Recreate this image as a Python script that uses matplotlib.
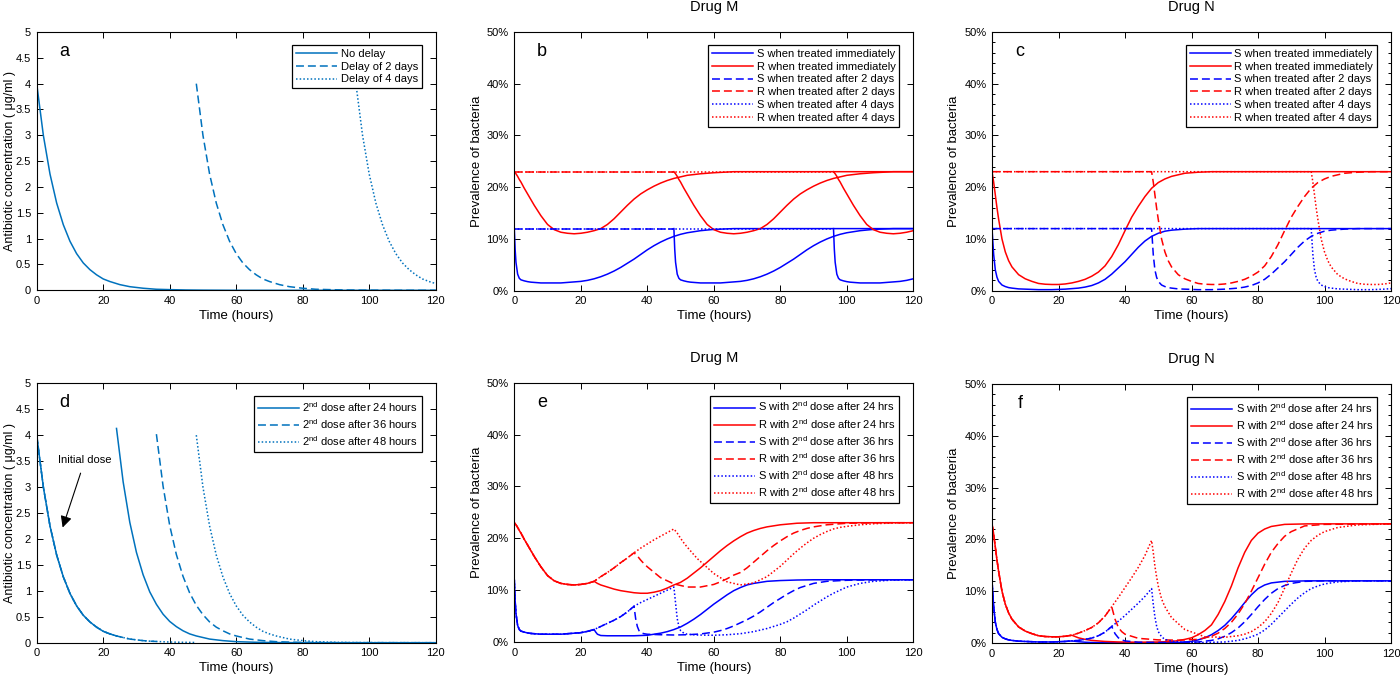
import numpy as np
import matplotlib
matplotlib.use('Agg')
import matplotlib.pyplot as plt
from matplotlib.ticker import FuncFormatter, MultipleLocator

plt.rcParams['font.family'] = ['Liberation Sans', 'DejaVu Sans']
plt.rcParams['mathtext.fontset'] = 'custom'
plt.rcParams['mathtext.rm'] = 'Liberation Sans'
plt.rcParams['mathtext.it'] = 'Liberation Sans:italic'
plt.rcParams['mathtext.bf'] = 'Liberation Sans:bold'

# ---------------- Panel a: antibiotic concentration, delayed start ----------------
a_t_nodelay = [0, 2, 4, 6, 8, 10, 12, 14, 16, 18, 20, 22, 25, 28, 32, 36, 40, 45, 50, 60, 120]
a_c_nodelay = [4.0, 3.0, 2.25, 1.69, 1.27, 0.95, 0.71, 0.53, 0.40, 0.30, 0.22, 0.17, 0.11, 0.07,
               0.04, 0.02, 0.013, 0.006, 0.003, 0.0, 0.0]
a_t_delay2 = [48, 50, 52, 54, 56, 58, 60, 62, 64, 66, 68, 70, 73, 76, 80, 84, 88, 93, 98, 108, 120]
a_c_delay2 = [4.0, 3.0, 2.25, 1.69, 1.27, 0.95, 0.71, 0.53, 0.40, 0.30, 0.22, 0.17, 0.11, 0.07,
              0.04, 0.02, 0.013, 0.006, 0.003, 0.0, 0.0]
a_t_delay4 = [96, 98, 100, 102, 104, 106, 108, 110, 112, 114, 116, 118, 120]
a_c_delay4 = [4.0, 3.0, 2.25, 1.69, 1.27, 0.95, 0.71, 0.53, 0.40, 0.30, 0.22, 0.17, 0.13]

# ---------------- Panel d: antibiotic concentration, second dose ----------------
d_t_24 = [0, 2, 4, 6, 8, 10, 12, 14, 16, 18, 20, 22, 24, 24, 24, 26, 28, 30, 32, 34, 36, 38, 40,
          42, 44, 46, 48, 52, 56, 60, 66, 72, 80, 120]
d_c_24 = [4.0, 3.0, 2.25, 1.69, 1.27, 0.95, 0.71, 0.53, 0.40, 0.30, 0.22, 0.17, 0.13, np.nan,
          4.13, 3.10, 2.32, 1.74, 1.31, 0.98, 0.74, 0.55, 0.41, 0.31, 0.23, 0.17, 0.13, 0.07,
          0.04, 0.02, 0.008, 0.003, 0.0, 0.0]
d_t_36 = [0, 2, 4, 6, 8, 10, 12, 14, 16, 18, 20, 22, 24, 26, 28, 30, 32, 34, 36, 36, 36, 38, 40,
          42, 44, 46, 48, 50, 52, 54, 56, 58, 60, 64, 68, 72, 78, 84, 92, 120]
d_c_36 = [4.0, 3.0, 2.25, 1.69, 1.27, 0.95, 0.71, 0.53, 0.40, 0.30, 0.22, 0.17, 0.13, 0.10, 0.07,
          0.055, 0.04, 0.03, 0.024, np.nan, 4.02, 3.02, 2.26, 1.70, 1.28, 0.96, 0.72, 0.54, 0.40,
          0.30, 0.23, 0.17, 0.13, 0.07, 0.04, 0.02, 0.008, 0.003, 0.001, 0.0]
d_t_48 = [0, 2, 4, 6, 8, 10, 12, 14, 16, 18, 20, 22, 24, 26, 28, 30, 32, 34, 36, 38, 40, 42, 44,
          46, 48, 48, 48, 50, 52, 54, 56, 58, 60, 62, 64, 66, 68, 70, 72, 76, 80, 84, 90, 96, 104, 120]
d_c_48 = [4.0, 3.0, 2.25, 1.69, 1.27, 0.95, 0.71, 0.53, 0.40, 0.30, 0.22, 0.17, 0.13, 0.10, 0.07,
          0.055, 0.04, 0.03, 0.024, 0.018, 0.013, 0.01, 0.008, 0.006, 0.004, np.nan, 4.0, 3.0,
          2.25, 1.69, 1.27, 0.95, 0.71, 0.53, 0.40, 0.30, 0.22, 0.17, 0.13, 0.07, 0.04, 0.02,
          0.008, 0.003, 0.001, 0.0]

# ---------------- Panel b: Drug M, delayed treatment (prevalence, %) ----------------
b_t_now = [0, 0.25, 0.5, 1, 1.5, 2, 3, 4, 5, 6, 8, 10, 12, 14, 16, 18, 20, 22, 24, 26, 28, 30,
           32, 34, 36, 38, 40, 42, 44, 46, 48, 50, 52, 56, 60, 66, 120]
b_S_now = [12.0, 8.0, 5.5, 3.2, 2.4, 2.1, 1.9, 1.75, 1.65, 1.6, 1.5, 1.5, 1.5, 1.5, 1.6, 1.7, 1.8,
           2.0, 2.3, 2.7, 3.2, 3.8, 4.5, 5.3, 6.1, 7.0, 7.9, 8.7, 9.4, 10.0, 10.5, 10.9, 11.2,
           11.6, 11.85, 12.0, 12.0]
b_R_now = [23.0, 22.8, 22.6, 22.1, 21.5, 21.0, 19.8, 18.7, 17.6, 16.5, 14.5, 12.8, 11.8, 11.3,
           11.1, 11.0, 11.1, 11.3, 11.6, 12.0, 12.8, 13.9, 15.2, 16.5, 17.7, 18.7, 19.5, 20.2,
           20.8, 21.3, 21.7, 22.0, 22.3, 22.6, 22.8, 23.0, 23.0]
b_t_2day = [0, 48, 48.25, 48.5, 49, 49.5, 50, 51, 52, 53, 54, 56, 58, 60, 62, 64, 66, 68, 70, 72,
            74, 76, 78, 80, 82, 84, 86, 88, 90, 92, 94, 96, 98, 100, 104, 108, 114, 120]
b_S_2day = [12.0, 12.0, 8.0, 5.5, 3.2, 2.4, 2.1, 1.9, 1.75, 1.65, 1.6, 1.5, 1.5, 1.5, 1.5, 1.6,
            1.7, 1.8, 2.0, 2.3, 2.7, 3.2, 3.8, 4.5, 5.3, 6.1, 7.0, 7.9, 8.7, 9.4, 10.0, 10.5,
            10.9, 11.2, 11.6, 11.85, 12.0, 12.0]
b_R_2day = [23.0, 23.0, 22.8, 22.6, 22.1, 21.5, 21.0, 19.8, 18.7, 17.6, 16.5, 14.5, 12.8, 11.8,
            11.3, 11.1, 11.0, 11.1, 11.3, 11.6, 12.0, 12.8, 13.9, 15.2, 16.5, 17.7, 18.7, 19.5,
            20.2, 20.8, 21.3, 21.7, 22.0, 22.3, 22.6, 22.8, 23.0, 23.0]
b_t_4day = [0, 96, 96.25, 96.5, 97, 97.5, 98, 99, 100, 101, 102, 104, 106, 108, 110, 112, 114,
            116, 118, 120]
b_S_4day = [12.0, 12.0, 8.0, 5.5, 3.2, 2.4, 2.1, 1.9, 1.75, 1.65, 1.6, 1.5, 1.5, 1.5, 1.5, 1.6,
            1.7, 1.8, 2.0, 2.3]
b_R_4day = [23.0, 23.0, 22.8, 22.6, 22.1, 21.5, 21.0, 19.8, 18.7, 17.6, 16.5, 14.5, 12.8, 11.8,
            11.3, 11.1, 11.0, 11.1, 11.3, 11.6]

# ---------------- Panel c: Drug N, delayed treatment (prevalence, %) ----------------
c_t_now = [0, 0.5, 1, 1.5, 2, 3, 4, 5, 6, 8, 10, 12, 14, 16, 18, 20, 22, 24, 26, 28, 30, 32, 34,
           36, 38, 40, 42, 44, 46, 48, 50, 52, 54, 56, 58, 62, 66, 120]
c_S_now = [12.0, 7.0, 4.0, 2.6, 1.8, 1.1, 0.8, 0.6, 0.5, 0.35, 0.3, 0.25, 0.2, 0.2, 0.2, 0.25,
           0.3, 0.4, 0.5, 0.7, 1.0, 1.5, 2.2, 3.2, 4.4, 5.6, 7.0, 8.4, 9.6, 10.5, 11.1, 11.5,
           11.7, 11.8, 11.9, 12.0, 12.0, 12.0]
c_R_now = [23.0, 21.0, 18.5, 16.0, 13.8, 10.0, 7.5, 5.8, 4.6, 3.1, 2.3, 1.8, 1.4, 1.25, 1.2, 1.2,
           1.3, 1.5, 1.8, 2.2, 2.8, 3.6, 4.8, 6.6, 8.9, 11.6, 14.2, 16.3, 18.2, 19.8, 20.9, 21.6,
           22.1, 22.4, 22.7, 22.9, 23.0, 23.0]
c_t_2day = [0, 48, 48.5, 49, 49.5, 50, 51, 52, 53, 54, 56, 58, 60, 62, 64, 66, 68, 70, 72, 74,
            76, 78, 80, 82, 84, 86, 88, 90, 92, 94, 96, 98, 100, 102, 104, 106, 110, 114, 120]
c_S_2day = [12.0, 12.0, 7.0, 4.0, 2.6, 1.8, 1.1, 0.8, 0.6, 0.5, 0.35, 0.3, 0.25, 0.2, 0.2, 0.2,
            0.25, 0.3, 0.4, 0.5, 0.7, 1.0, 1.5, 2.2, 3.2, 4.4, 5.6, 7.0, 8.4, 9.6, 10.5, 11.1,
            11.5, 11.7, 11.8, 11.9, 12.0, 12.0, 12.0]
c_R_2day = [23.0, 23.0, 21.0, 18.5, 16.0, 13.8, 10.0, 7.5, 5.8, 4.6, 3.1, 2.3, 1.8, 1.4, 1.25,
            1.2, 1.2, 1.3, 1.5, 1.8, 2.2, 2.8, 3.6, 4.8, 6.6, 8.9, 11.6, 14.2, 16.3, 18.2, 19.8,
            20.9, 21.6, 22.1, 22.4, 22.7, 22.9, 23.0, 23.0]
c_t_4day = [0, 96, 96.5, 97, 97.5, 98, 99, 100, 101, 102, 104, 106, 108, 110, 112, 114, 116, 118,
            120]
c_S_4day = [12.0, 12.0, 7.0, 4.0, 2.6, 1.8, 1.1, 0.8, 0.6, 0.5, 0.35, 0.3, 0.25, 0.2, 0.2, 0.2,
            0.25, 0.3, 0.4]
c_R_4day = [23.0, 23.0, 21.0, 18.5, 16.0, 13.8, 10.0, 7.5, 5.8, 4.6, 3.1, 2.3, 1.8, 1.4, 1.25,
            1.2, 1.2, 1.3, 1.5]

# ---------------- Panel e: Drug M, second dose (prevalence, %) ----------------
e_t_24 = [0, 0.25, 0.5, 1, 1.5, 2, 3, 4, 5, 6, 8, 10, 12, 14, 16, 18, 20, 22, 24, 24.5, 25, 26,
          28, 30, 32, 34, 36, 38, 40, 42, 44, 46, 48, 50, 52, 54, 56, 58, 60, 62, 64, 66, 68, 70,
          72, 74, 76, 80, 85, 90, 120]
e_S_24 = [12.0, 8.0, 5.5, 3.2, 2.4, 2.1, 1.9, 1.75, 1.65, 1.6, 1.5, 1.5, 1.5, 1.5, 1.6, 1.7, 1.8,
          2.05, 2.4, 1.9, 1.5, 1.25, 1.2, 1.2, 1.2, 1.2, 1.2, 1.25, 1.3, 1.5, 1.7, 2.0, 2.4, 2.9,
          3.6, 4.4, 5.3, 6.3, 7.3, 8.2, 9.1, 9.9, 10.5, 11.0, 11.3, 11.5, 11.7, 11.85, 11.95,
          12.0, 12.0]
e_R_24 = [23.0, 22.8, 22.6, 22.1, 21.5, 21.0, 19.8, 18.7, 17.6, 16.5, 14.5, 12.8, 11.8, 11.3,
          11.1, 11.0, 11.1, 11.3, 11.7, 11.5, 11.3, 11.0, 10.6, 10.2, 9.9, 9.7, 9.5, 9.4, 9.4,
          9.6, 9.9, 10.4, 11.0, 11.5, 12.3, 13.3, 14.3, 15.4, 16.5, 17.6, 18.6, 19.5, 20.3, 21.0,
          21.5, 21.9, 22.2, 22.6, 22.9, 23.0, 23.0]
e_t_36 = [0, 0.25, 0.5, 1, 1.5, 2, 3, 4, 5, 6, 8, 10, 12, 14, 16, 18, 20, 22, 24, 26, 28, 30, 32,
          34, 36, 36.5, 37, 37.5, 38, 39, 40, 44, 48, 52, 56, 60, 62, 64, 66, 68, 70, 72, 74, 76,
          78, 80, 82, 84, 86, 88, 90, 94, 100, 110, 120]
e_S_36 = [12.0, 8.0, 5.5, 3.2, 2.4, 2.1, 1.9, 1.75, 1.65, 1.6, 1.5, 1.5, 1.5, 1.5, 1.6, 1.7, 1.8,
          2.05, 2.4, 3.0, 3.6, 4.2, 4.9, 5.8, 6.9, 4.5, 3.0, 2.2, 1.8, 1.6, 1.5, 1.4, 1.35, 1.4,
          1.55, 1.9, 2.2, 2.6, 3.1, 3.7, 4.3, 5.0, 5.8, 6.7, 7.6, 8.4, 9.2, 9.9, 10.5, 10.9,
          11.3, 11.7, 11.9, 12.0, 12.0]
e_R_36 = [23.0, 22.8, 22.6, 22.1, 21.5, 21.0, 19.8, 18.7, 17.6, 16.5, 14.5, 12.8, 11.8, 11.3,
          11.1, 11.0, 11.1, 11.3, 11.7, 12.6, 13.4, 14.3, 15.3, 16.2, 17.2, 16.9, 16.6, 16.2,
          15.8, 15.1, 14.5, 12.4, 11.2, 10.6, 10.6, 11.1, 11.6, 12.2, 12.9, 13.4, 14.3, 15.4,
          16.5, 17.6, 18.6, 19.5, 20.3, 21.0, 21.5, 21.9, 22.2, 22.6, 22.9, 23.0, 23.0]
e_t_48 = [0, 0.25, 0.5, 1, 1.5, 2, 3, 4, 5, 6, 8, 10, 12, 14, 16, 18, 20, 22, 24, 26, 28, 30, 32,
          34, 36, 38, 40, 42, 44, 46, 48, 48.5, 49, 49.5, 50, 51, 52, 55, 60, 64, 68, 72, 76, 80,
          82, 84, 86, 88, 90, 92, 94, 96, 98, 100, 104, 108, 114, 120]
e_S_48 = [12.0, 8.0, 5.5, 3.2, 2.4, 2.1, 1.9, 1.75, 1.65, 1.6, 1.5, 1.5, 1.5, 1.5, 1.6, 1.7, 1.8,
          2.05, 2.4, 3.0, 3.6, 4.2, 4.9, 5.8, 6.9, 7.6, 8.2, 8.8, 9.4, 10.0, 10.6, 7.5, 4.5, 3.0,
          2.2, 1.7, 1.5, 1.35, 1.3, 1.4, 1.6, 2.0, 2.6, 3.4, 3.9, 4.6, 5.4, 6.2, 7.1, 7.9, 8.7,
          9.4, 10.0, 10.6, 11.3, 11.7, 11.95, 12.0]
e_R_48 = [23.0, 22.8, 22.6, 22.1, 21.5, 21.0, 19.8, 18.7, 17.6, 16.5, 14.5, 12.8, 11.8, 11.3,
          11.1, 11.0, 11.1, 11.3, 11.7, 12.6, 13.4, 14.3, 15.3, 16.2, 17.2, 18.1, 18.9, 19.7,
          20.4, 21.1, 21.8, 21.4, 21.0, 20.5, 20.0, 19.1, 18.3, 16.1, 13.2, 11.6, 11.0, 11.4,
          12.6, 14.6, 15.8, 17.0, 18.1, 19.1, 20.0, 20.7, 21.3, 21.8, 22.1, 22.3, 22.6, 22.8,
          22.95, 23.0]

# ---------------- Panel f: Drug N, second dose (prevalence, %) ----------------
f_t_24 = [0, 0.5, 1, 1.5, 2, 3, 4, 5, 6, 8, 10, 12, 14, 16, 18, 20, 22, 24, 26, 28, 30, 34, 38,
          44, 50, 54, 56, 58, 60, 62, 64, 66, 68, 70, 72, 74, 76, 78, 80, 82, 84, 88, 95, 120]
f_S_24 = [12.0, 7.0, 4.0, 2.6, 1.8, 1.1, 0.8, 0.6, 0.5, 0.35, 0.3, 0.25, 0.2, 0.2, 0.2, 0.25,
          0.3, 0.4, 0.25, 0.15, 0.1, 0.07, 0.05, 0.05, 0.05, 0.07, 0.1, 0.2, 0.3, 0.6, 1.0, 1.6,
          2.4, 3.4, 4.7, 6.2, 7.8, 9.3, 10.5, 11.2, 11.6, 11.9, 12.0, 12.0]
f_R_24 = [23.0, 21.0, 18.5, 16.0, 13.8, 10.0, 7.5, 5.8, 4.6, 3.1, 2.3, 1.8, 1.4, 1.25, 1.2, 1.2,
          1.3, 1.5, 1.0, 0.7, 0.5, 0.3, 0.2, 0.15, 0.2, 0.3, 0.45, 0.7, 1.0, 1.6, 2.4, 3.5, 5.5,
          8.0, 11.0, 14.5, 17.5, 19.8, 21.2, 22.0, 22.5, 22.9, 23.0, 23.0]
f_t_36 = [0, 0.5, 1, 1.5, 2, 3, 4, 5, 6, 8, 10, 12, 14, 16, 18, 20, 22, 24, 26, 28, 30, 32, 34,
          36, 36.5, 37, 38, 39, 40, 44, 50, 56, 62, 66, 68, 70, 72, 74, 76, 78, 80, 82, 84, 86,
          88, 90, 94, 100, 120]
f_S_36 = [12.0, 7.0, 4.0, 2.6, 1.8, 1.1, 0.8, 0.6, 0.5, 0.35, 0.3, 0.25, 0.2, 0.2, 0.2, 0.25,
          0.3, 0.4, 0.5, 0.7, 0.95, 1.4, 2.1, 3.2, 2.5, 1.8, 1.0, 0.6, 0.4, 0.15, 0.1, 0.1, 0.2,
          0.5, 0.8, 1.3, 2.0, 2.9, 4.1, 5.5, 7.0, 8.4, 9.6, 10.5, 11.1, 11.5, 11.9, 12.0, 12.0]
f_R_36 = [23.0, 21.0, 18.5, 16.0, 13.8, 10.0, 7.5, 5.8, 4.6, 3.1, 2.3, 1.8, 1.4, 1.25, 1.2, 1.2,
          1.3, 1.5, 1.9, 2.4, 3.0, 3.9, 5.2, 7.0, 5.8, 4.6, 3.0, 2.2, 1.7, 0.9, 0.6, 0.55, 0.7,
          1.3, 1.9, 2.8, 4.0, 5.6, 7.6, 10.0, 12.6, 15.2, 17.5, 19.2, 20.6, 21.5, 22.6, 22.9,
          23.0]
f_t_48 = [0, 0.5, 1, 1.5, 2, 3, 4, 5, 6, 8, 10, 12, 14, 16, 18, 20, 22, 24, 26, 28, 30, 32, 34,
          36, 38, 40, 42, 44, 46, 48, 48.5, 49, 49.5, 50, 51, 52, 54, 58, 64, 70, 74, 76, 78, 80,
          82, 84, 86, 88, 90, 92, 94, 96, 98, 100, 104, 110, 120]
f_S_48 = [12.0, 7.0, 4.0, 2.6, 1.8, 1.1, 0.8, 0.6, 0.5, 0.35, 0.3, 0.25, 0.2, 0.2, 0.2, 0.25,
          0.3, 0.4, 0.5, 0.7, 0.95, 1.4, 2.1, 3.2, 4.2, 5.3, 6.5, 7.7, 9.0, 10.5, 7.5, 5.0, 3.3,
          2.2, 1.2, 0.7, 0.35, 0.15, 0.1, 0.2, 0.5, 0.8, 1.2, 1.7, 2.5, 3.6, 4.9, 6.2, 7.5, 8.7,
          9.7, 10.5, 11.0, 11.4, 11.8, 12.0, 12.0]
f_R_48 = [23.0, 21.0, 18.5, 16.0, 13.8, 10.0, 7.5, 5.8, 4.6, 3.1, 2.3, 1.8, 1.4, 1.25, 1.2, 1.2,
          1.3, 1.5, 1.9, 2.4, 3.0, 3.9, 5.2, 7.0, 8.8, 10.7, 12.6, 14.6, 16.9, 19.8, 17.5, 14.8,
          12.8, 11.0, 8.5, 7.0, 4.9, 2.6, 1.2, 1.1, 1.4, 1.7, 2.2, 3.0, 4.1, 5.7, 7.8, 10.6,
          13.5, 16.2, 18.3, 19.8, 20.8, 21.5, 22.3, 22.8, 23.0]

# Legend labels
delay_labels = ['No delay', 'Delay of 2 days', 'Delay of 4 days']
dose_labels = ['2$^{\\rm nd}$ dose after 24 hours', '2$^{\\rm nd}$ dose after 36 hours',
               '2$^{\\rm nd}$ dose after 48 hours']
treat_labels = ['S when treated immediately', 'R when treated immediately',
                'S when treated after 2 days', 'R when treated after 2 days',
                'S when treated after 4 days', 'R when treated after 4 days']
second_labels = ['S with 2$^{\\rm nd}$ dose after 24 hrs', 'R with 2$^{\\rm nd}$ dose after 24 hrs',
                 'S with 2$^{\\rm nd}$ dose after 36 hrs', 'R with 2$^{\\rm nd}$ dose after 36 hrs',
                 'S with 2$^{\\rm nd}$ dose after 48 hrs', 'R with 2$^{\\rm nd}$ dose after 48 hrs']

CONC = '#0072BD'
S_COL = '#0000FF'
R_COL = '#FF0000'
LW = 1.1
SOLID = '-'
DASH = (0, (5.2, 2.6))
DOT = (0, (1.0, 1.4))

W, H = 1400, 676


def rect(left, right, top, bottom):
    return [left / W, 1 - bottom / H, (right - left) / W, (bottom - top) / H]


def style_axes(ax, minor_y=False):
    ax.set_xlim(0, 120)
    ax.set_xticks(range(0, 121, 20))
    ax.tick_params(which='both', direction='in', top=True, right=True, width=0.7)
    ax.tick_params(which='major', length=4, labelsize=8, pad=4)
    ax.tick_params(which='minor', length=2)
    if minor_y:
        ax.yaxis.set_minor_locator(MultipleLocator(2))
    for s in ax.spines.values():
        s.set_linewidth(0.8)
    ax.set_xlabel('Time (hours)', fontsize=9.5, labelpad=3)


def add_legend(ax, spacing=0.25):
    leg = ax.legend(loc='upper right', bbox_to_anchor=(1 - 14 / 399, 1 - 13 / 258.5),
                    borderaxespad=0, fontsize=8, frameon=True, fancybox=False,
                    edgecolor='black', framealpha=1, handlelength=3.7, handletextpad=0.3,
                    labelspacing=spacing, borderpad=0.35)
    leg.get_frame().set_linewidth(0.9)
    return leg


def percent_axes(ax, label_x):
    ax.set_ylim(0, 50)
    ax.set_yticks(range(0, 51, 10))
    ax.yaxis.set_major_formatter(FuncFormatter(lambda v, pos: '%d%%' % v))
    ax.set_ylabel('Prevalence of bacteria', fontsize=9.5)
    ax.yaxis.set_label_coords(label_x, 0.5)


def conc_axes(ax):
    ax.set_ylim(0, 5)
    ax.set_yticks(np.arange(0, 5.01, 0.5))
    ax.yaxis.set_major_formatter(FuncFormatter(lambda v, pos: '%g' % v))
    ax.set_ylabel('Antibiotic concentration ( μg/ml )', fontsize=9)
    ax.yaxis.set_label_coords(-0.053, 0.5)


def letter(ax, s):
    ax.text(0.07, 0.925, s, transform=ax.transAxes, fontsize=13, ha='center', va='center')


def plot_split(ax, t, v, color, style, t_dose, label):
    # flat pre-treatment part in legend style, the response after treatment drawn solid
    t = np.asarray(t, dtype=float)
    v = np.asarray(v, dtype=float)
    ax.plot(t[t <= t_dose], v[t <= t_dose], color=color, linestyle=style, lw=LW, label=label)
    ax.plot(t[t >= t_dose], v[t >= t_dose], color=color, linestyle=SOLID, lw=LW)


fig = plt.figure(figsize=(14, 6.76), dpi=100)

ax_a = fig.add_axes(rect(36.7, 435.7, 32, 290.3))
ax_b = fig.add_axes(rect(514.3, 913.3, 32, 290.7))
ax_c = fig.add_axes(rect(992, 1391, 32, 290.7))
ax_d = fig.add_axes(rect(36.7, 435.7, 383.3, 642.7))
ax_e = fig.add_axes(rect(514.3, 913.3, 382.7, 642))
ax_f = fig.add_axes(rect(992, 1391, 384, 643))

# Panel a
ax_a.plot(a_t_nodelay, a_c_nodelay, color=CONC, lw=LW, linestyle=SOLID, label=delay_labels[0])
ax_a.plot(a_t_delay2, a_c_delay2, color=CONC, lw=LW, linestyle=DASH, label=delay_labels[1])
ax_a.plot(a_t_delay4, a_c_delay4, color=CONC, lw=LW, linestyle=DOT, label=delay_labels[2])
style_axes(ax_a)
conc_axes(ax_a)
add_legend(ax_a)
letter(ax_a, 'a')

# Panel d
ax_d.plot(d_t_24, d_c_24, color=CONC, lw=LW, linestyle=SOLID, label=dose_labels[0])
ax_d.plot(d_t_36, d_c_36, color=CONC, lw=LW, linestyle=DASH, label=dose_labels[1])
ax_d.plot(d_t_48, d_c_48, color=CONC, lw=LW, linestyle=DOT, label=dose_labels[2])
style_axes(ax_d)
conc_axes(ax_d)
add_legend(ax_d, spacing=0.3)
letter(ax_d, 'd')
ax_d.annotate('Initial dose', xy=(7.8, 2.22), xytext=(14.5, 3.52), fontsize=8,
              ha='center', va='center',
              arrowprops=dict(arrowstyle='-|>', color='black', lw=0.8, mutation_scale=17,
                              shrinkA=4, shrinkB=0))

# Panel b (Drug M, delayed treatment)
ax_b.plot(b_t_now, b_S_now, color=S_COL, lw=LW, linestyle=SOLID, label=treat_labels[0])
ax_b.plot(b_t_now, b_R_now, color=R_COL, lw=LW, linestyle=SOLID, label=treat_labels[1])
plot_split(ax_b, b_t_2day, b_S_2day, S_COL, DASH, 48, treat_labels[2])
plot_split(ax_b, b_t_2day, b_R_2day, R_COL, DASH, 48, treat_labels[3])
plot_split(ax_b, b_t_4day, b_S_4day, S_COL, DOT, 96, treat_labels[4])
plot_split(ax_b, b_t_4day, b_R_4day, R_COL, DOT, 96, treat_labels[5])
style_axes(ax_b)
percent_axes(ax_b, -0.078)
add_legend(ax_b)
letter(ax_b, 'b')
ax_b.set_title('Drug M', fontsize=10.5, pad=15)

# Panel c (Drug N, delayed treatment)
ax_c.plot(c_t_now, c_S_now, color=S_COL, lw=LW, linestyle=SOLID, label=treat_labels[0])
ax_c.plot(c_t_now, c_R_now, color=R_COL, lw=LW, linestyle=SOLID, label=treat_labels[1])
ax_c.plot(c_t_2day, c_S_2day, color=S_COL, lw=LW, linestyle=DASH, label=treat_labels[2])
ax_c.plot(c_t_2day, c_R_2day, color=R_COL, lw=LW, linestyle=DASH, label=treat_labels[3])
ax_c.plot(c_t_4day, c_S_4day, color=S_COL, lw=LW, linestyle=DOT, label=treat_labels[4])
ax_c.plot(c_t_4day, c_R_4day, color=R_COL, lw=LW, linestyle=DOT, label=treat_labels[5])
style_axes(ax_c, minor_y=True)
percent_axes(ax_c, -0.080)
add_legend(ax_c)
letter(ax_c, 'c')
ax_c.set_title('Drug N', fontsize=10.5, pad=15)

# Panel e (Drug M, second dose)
ax_e.plot(e_t_24, e_S_24, color=S_COL, lw=LW, linestyle=SOLID, label=second_labels[0])
ax_e.plot(e_t_24, e_R_24, color=R_COL, lw=LW, linestyle=SOLID, label=second_labels[1])
ax_e.plot(e_t_36, e_S_36, color=S_COL, lw=LW, linestyle=DASH, label=second_labels[2])
ax_e.plot(e_t_36, e_R_36, color=R_COL, lw=LW, linestyle=DASH, label=second_labels[3])
ax_e.plot(e_t_48, e_S_48, color=S_COL, lw=LW, linestyle=DOT, label=second_labels[4])
ax_e.plot(e_t_48, e_R_48, color=R_COL, lw=LW, linestyle=DOT, label=second_labels[5])
style_axes(ax_e)
percent_axes(ax_e, -0.078)
add_legend(ax_e, spacing=0.3)
letter(ax_e, 'e')
ax_e.set_title('Drug M', fontsize=10.5, pad=15)

# Panel f (Drug N, second dose)
ax_f.plot(f_t_24, f_S_24, color=S_COL, lw=LW, linestyle=SOLID, label=second_labels[0])
ax_f.plot(f_t_24, f_R_24, color=R_COL, lw=LW, linestyle=SOLID, label=second_labels[1])
ax_f.plot(f_t_36, f_S_36, color=S_COL, lw=LW, linestyle=DASH, label=second_labels[2])
ax_f.plot(f_t_36, f_R_36, color=R_COL, lw=LW, linestyle=DASH, label=second_labels[3])
ax_f.plot(f_t_48, f_S_48, color=S_COL, lw=LW, linestyle=DOT, label=second_labels[4])
ax_f.plot(f_t_48, f_R_48, color=R_COL, lw=LW, linestyle=DOT, label=second_labels[5])
style_axes(ax_f, minor_y=True)
percent_axes(ax_f, -0.080)
add_legend(ax_f, spacing=0.3)
letter(ax_f, 'f')
ax_f.set_title('Drug N', fontsize=10.5, pad=15)

fig.savefig('out.png', dpi=100)
